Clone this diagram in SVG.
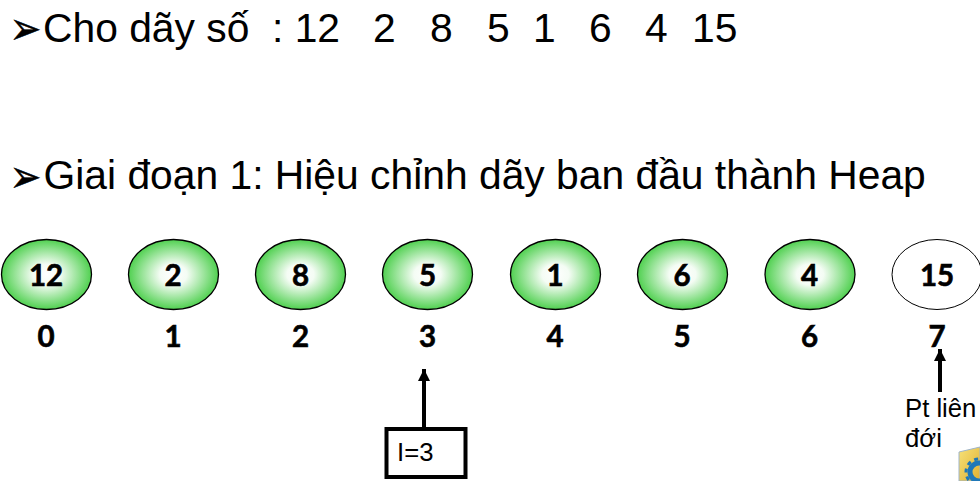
<svg xmlns="http://www.w3.org/2000/svg" width="980" height="481" viewBox="0 0 980 481">
<style>
.h{font-family:"Liberation Sans",Arial,sans-serif;font-size:40.8px;fill:#000}
.b{font-family:"DejaVu Sans",sans-serif;font-size:38px;fill:#000;stroke:#000;stroke-width:.4}
.n{font-family:Lato,"Open Sans",sans-serif;font-weight:700;font-size:29.500px;fill:#000;stroke:#000;stroke-width:.6;text-anchor:middle}
.s{font-family:"Liberation Sans",Arial,sans-serif;font-size:25.700px;fill:#000}
.e{fill:url(#g);stroke:#000;stroke-width:1.3}
.c{stroke:#000;stroke-width:4;fill:none}
</style>
<defs>
<radialGradient id="g" cx="50%" cy="50%" r="50%"><stop offset="0" stop-color="#fff"/><stop offset="0.3" stop-color="#f4fcf4"/><stop offset="1" stop-color="#50d050"/></radialGradient>
<linearGradient id="y" x1="0" y1="0" x2="1" y2="1"><stop offset="0" stop-color="#f7e27a"/><stop offset="1" stop-color="#e0b030"/></linearGradient>
<marker id="a" markerUnits="userSpaceOnUse" markerWidth="13" markerHeight="13" refX="12" refY="6" orient="auto"><path d="M0 0L12 6L0 12z" fill="#000"/></marker>
</defs>
<rect width="980" height="481" fill="#fff"/>
<text class="b" transform="translate(9.500 43.500) scale(1 1.200)">➢</text>
<text class="h" x="43" y="41.500">Cho dãy số</text>
<text class="h" x="272" y="41.500">: 12</text>
<text class="h" x="373" y="41.500">2</text>
<text class="h" x="430" y="41.500">8</text>
<text class="h" x="487" y="41.500">5</text>
<text class="h" x="533" y="41.500">1</text>
<text class="h" x="589" y="41.500">6</text>
<text class="h" x="645" y="41.500">4</text>
<text class="h" x="692" y="41.500">15</text>
<text class="b" transform="translate(9.500 191.500) scale(1 1.200)">➢</text>
<text class="h" x="43.500" y="189">Giai đoạn 1: Hiệu chỉnh dãy ban đầu thành Heap</text>
<g id="n0"><ellipse class="e" cx="46.500" cy="274.500" rx="45" ry="35"/><text class="n" x="46" y="286">12</text><text class="n" x="46" y="347">0</text></g>
<g id="n1"><ellipse class="e" cx="173.500" cy="274.500" rx="45" ry="35"/><text class="n" x="173" y="286">2</text><text class="n" x="173" y="347">1</text></g>
<g id="n2"><ellipse class="e" cx="300.500" cy="274.500" rx="45" ry="35"/><text class="n" x="300.500" y="286">8</text><text class="n" x="300.500" y="347">2</text></g>
<g id="n3"><ellipse class="e" cx="427.500" cy="274.500" rx="45" ry="35"/><text class="n" x="427.500" y="286">5</text><text class="n" x="427.500" y="347">3</text></g>
<g id="n4"><ellipse class="e" cx="555.500" cy="274.500" rx="45" ry="35"/><text class="n" x="555" y="286">1</text><text class="n" x="555" y="347">4</text></g>
<g id="n5"><ellipse class="e" cx="682.500" cy="274.500" rx="45" ry="35"/><text class="n" x="682" y="286">6</text><text class="n" x="682" y="347">5</text></g>
<g id="n6"><ellipse class="e" cx="810" cy="274.500" rx="45" ry="35"/><text class="n" x="809.500" y="286">4</text><text class="n" x="809.500" y="347">6</text></g>
<g id="n7"><ellipse cx="937" cy="274.500" rx="45" ry="35" fill="#fff" stroke="#000" stroke-width="1"/><text class="n" x="937" y="286">15</text><text class="n" x="937" y="347">7</text></g>
<g id="connectors">
<path class="c" d="M424 428V369" marker-end="url(#a)"/>
<path class="c" d="M940 392V349" marker-end="url(#a)"/>
</g>
<g id="box"><rect x="386.500" y="429" width="79" height="48" fill="#fff" stroke="#000" stroke-width="4"/><text class="s" x="397" y="461">I=3</text></g>
<g id="note"><text class="s" x="905" y="417">Pt liên</text><text class="s" x="905" y="447">đới</text></g>
<g id="icon"><path d="M959 452L980 447V481H959z" fill="url(#y)" stroke="#9fb4c8" stroke-width="1"/><circle cx="979" cy="472" r="9" fill="none" stroke="#1f78b8" stroke-width="5"/><circle cx="979" cy="472" r="13" fill="none" stroke="#1f78b8" stroke-width="3" stroke-dasharray="4 4"/></g>
</svg>
